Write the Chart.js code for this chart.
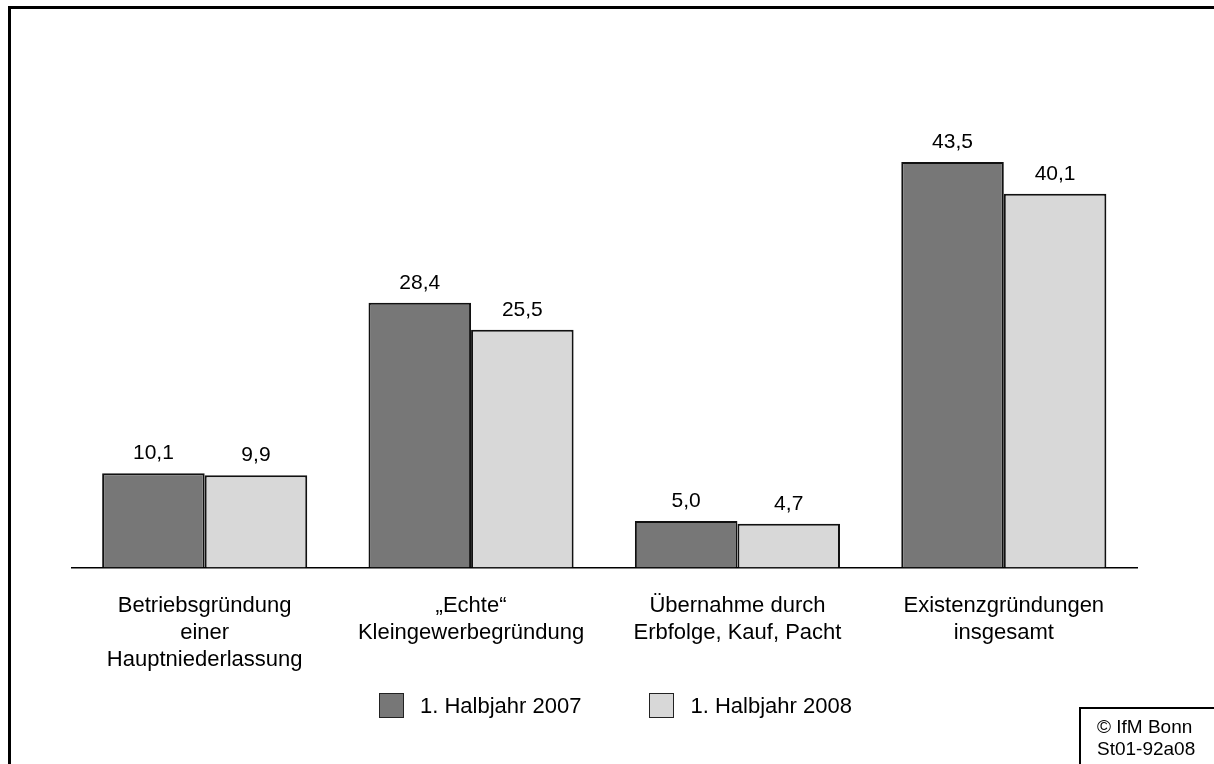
<!DOCTYPE html>
<html>
<head>
<meta charset="utf-8">
<script src="https://cdn.jsdelivr.net/npm/chart.js@4.4.1/dist/chart.umd.min.js"></script>
<style>
  html, body { margin: 0; padding: 0; background: #fff; }
  body { width: 1214px; height: 764px; position: relative; overflow: hidden;
         font-family: Arial, "Liberation Sans", sans-serif; color: #000; }
  #frameTop { position: absolute; left: 8px; top: 6px; width: 1206px; height: 3px; background: #000; }
  #frameLeft { position: absolute; left: 8px; top: 6px; width: 3px; height: 758px; background: #000; }
  #chartBox { position: absolute; left: 0; top: 0; width: 1214px; height: 764px; }
  #legend { position: absolute; top: 693px; left: 379px; display: flex; gap: 68px; font-size: 22px; }
  .item { display: flex; align-items: center; height: 25px; }
  .swatch { width: 23px; height: 23px; border: 1px solid #222; margin-right: 16px; }
  #copy { position: absolute; left: 1079px; top: 707px; width: 200px; height: 100px;
          border: 2px solid #000; font-size: 19px; line-height: 22px; padding: 7px 0 0 16px; }
</style>
</head>
<body>
<div id="chartBox"><canvas id="chart" width="1214" height="764"></canvas></div>
<div id="frameTop"></div>
<div id="frameLeft"></div>
<div id="legend"></div>
<div id="copy">© IfM Bonn<br>St01-92a08</div>
<script>
// Daten
const categories = [
    ["Betriebsgründung", "einer", "Hauptniederlassung"],
    ["„Echte“", "Kleingewerbegründung"],
    ["Übernahme durch", "Erbfolge, Kauf, Pacht"],
    ["Existenzgründungen", "insgesamt"]
];
const seriesNames = ["1. Halbjahr 2007", "1. Halbjahr 2008"];
const values2007 = [10.1, 28.4, 5.0, 43.5];
const values2008 = [9.9, 25.5, 4.7, 40.1];
const seriesColors = ["#777777", "#d8d8d8"];

Chart.defaults.font.family = 'Arial, "Liberation Sans", sans-serif';
Chart.defaults.color = '#000';

// Werte über den Balken
const valueLabels = {
    id: 'valueLabels',
    afterDatasetsDraw(chart) {
        const ctx = chart.ctx;
        ctx.save();
        ctx.font = '21px Arial, "Liberation Sans", sans-serif';
        ctx.fillStyle = '#000';
        ctx.textAlign = 'center';
        ctx.textBaseline = 'alphabetic';
        chart.data.datasets.forEach((ds, i) => {
            chart.getDatasetMeta(i).data.forEach((bar, j) => {
                ctx.fillText(ds.data[j].toFixed(1).replace('.', ','), bar.x, bar.y - 14);
            });
        });
        ctx.restore();
    }
};

const chart = new Chart(document.getElementById('chart'), {
    type: 'bar',
    data: {
        labels: categories,
        datasets: [
            { label: seriesNames[0], data: values2007, backgroundColor: seriesColors[0],
              borderColor: '#111', borderWidth: 2 },
            { label: seriesNames[1], data: values2008, backgroundColor: seriesColors[1],
              borderColor: '#111', borderWidth: 2 }
        ]
    },
    options: {
        responsive: false,
        animation: false,
        layout: { padding: { left: 71.5, right: 77, top: 101.5, bottom: 66 } },
        datasets: { bar: { categoryPercentage: 0.77, barPercentage: 1.0 } },
        scales: {
            x: {
                grid: { display: false, drawTicks: false },
                border: { display: true, color: '#000', width: 1.5 },
                ticks: { font: { size: 22, lineHeight: 1.22 }, color: '#000',
                         padding: 25, maxRotation: 0, autoSkip: false }
            },
            y: { display: false, min: 0, max: 50 }
        },
        plugins: { legend: { display: false }, tooltip: { enabled: false } }
    },
    plugins: [valueLabels]
});

// Legende aus den Datensätzen
const legend = document.getElementById('legend');
chart.data.datasets.forEach(ds => {
    const item = document.createElement('div');
    item.className = 'item';
    const sw = document.createElement('span');
    sw.className = 'swatch';
    sw.style.background = ds.backgroundColor;
    const txt = document.createElement('span');
    txt.textContent = ds.label;
    item.appendChild(sw);
    item.appendChild(txt);
    legend.appendChild(item);
});
</script>
</body>
</html>
